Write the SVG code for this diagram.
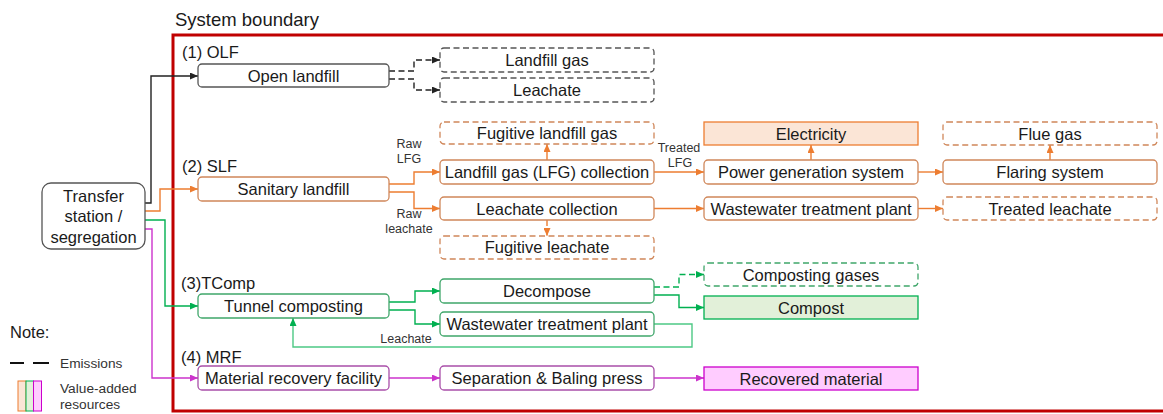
<svg xmlns="http://www.w3.org/2000/svg" width="1163" height="414" viewBox="0 0 1163 414">
<style>
text{font-family:"Liberation Sans",Arial,sans-serif;fill:#1a1a1a}
.t{font-size:16.5px;text-anchor:middle}
.lab{font-size:16.5px}
.s{font-size:12.5px;text-anchor:middle;fill:#333}
.leg{font-size:13.7px;fill:#333}
.b{fill:#fff;stroke-width:1.3}
.k{stroke:#555}
.o{stroke:#D0875A}
.g{stroke:#3FA66A}
.p{stroke:#A94FA9}
.d{stroke-dasharray:6 3.5}
.c{fill:none;stroke-width:1.4}
.ck{stroke:#222}
.co{stroke:#ED7D31}
.cg{stroke:#00B050}
.cp{stroke:#CC33CC}
</style>
<defs>
<marker id="ak" viewBox="0 0 8 7" refX="8" refY="3.5" markerWidth="8" markerHeight="7" markerUnits="userSpaceOnUse" orient="auto"><path d="M0,0L8,3.5L0,7z" fill="#222"/></marker>
<marker id="ao" viewBox="0 0 8 7" refX="8" refY="3.5" markerWidth="8" markerHeight="7" markerUnits="userSpaceOnUse" orient="auto"><path d="M0,0L8,3.5L0,7z" fill="#ED7D31"/></marker>
<marker id="ag" viewBox="0 0 8 7" refX="8" refY="3.5" markerWidth="8" markerHeight="7" markerUnits="userSpaceOnUse" orient="auto"><path d="M0,0L8,3.5L0,7z" fill="#00B050"/></marker>
<marker id="ap" viewBox="0 0 8 7" refX="8" refY="3.5" markerWidth="8" markerHeight="7" markerUnits="userSpaceOnUse" orient="auto"><path d="M0,0L8,3.5L0,7z" fill="#CC33CC"/></marker>
</defs>

<g id="boundary">
<rect x="173" y="35" width="1000" height="376" fill="none" stroke="#C00000" stroke-width="3"/>
<text x="175" y="25.5" style="font-size:18.5px">System boundary</text>
</g>

<g id="labels">
<text class="lab" x="182" y="58">(1) OLF</text>
<text class="lab" x="182" y="172">(2) SLF</text>
<text class="lab" x="181" y="289">(3)TComp</text>
<text class="lab" x="181" y="363">(4) MRF</text>
</g>

<g id="connectors">
<path class="c ck" d="M145,203H151V76H198" marker-end="url(#ak)"/>
<path class="c ck d" d="M389,71H414V60H440" marker-end="url(#ak)"/>
<path class="c ck d" d="M389,79H414V90H440" marker-end="url(#ak)"/>
<path class="c co" d="M145,211H160V189H198" marker-end="url(#ao)"/>
<path class="c co" d="M389,184H414V172H440" marker-end="url(#ao)"/>
<path class="c co" d="M389,192H414V208.5H440" marker-end="url(#ao)"/>
<path class="c co" d="M547,160V144" marker-end="url(#ao)"/>
<path class="c co d" d="M547,220V236" marker-end="url(#ao)"/>
<path class="c co" d="M654,172H704" marker-end="url(#ao)"/>
<path class="c co" d="M811,160V145" marker-end="url(#ao)"/>
<path class="c co" d="M918,172H943" marker-end="url(#ao)"/>
<path class="c co" d="M1050,160V145" marker-end="url(#ao)"/>
<path class="c co" d="M654,208.5H704" marker-end="url(#ao)"/>
<path class="c co" d="M918,208.5H943" marker-end="url(#ao)"/>
<path class="c cg" d="M145,220H165V306H198" marker-end="url(#ag)"/>
<path class="c cg" d="M389,302H415V291H440" marker-end="url(#ag)"/>
<path class="c cg" d="M389,310H415V324H440" marker-end="url(#ag)"/>
<path class="c cg d" d="M654,287H679V274.5H704" marker-end="url(#ag)"/>
<path class="c cg" d="M654,295H679V307.5H704" marker-end="url(#ag)"/>
<path class="c cg" d="M654,324H692V347H293V318" marker-end="url(#ag)" stroke-opacity="0.7"/>
<path class="c cp" d="M145,229H152V378H198" marker-end="url(#ap)"/>
<path class="c cp" d="M389,378H440" marker-end="url(#ap)"/>
<path class="c cp" d="M654,378H704" marker-end="url(#ap)"/>
<text class="s" x="409" y="147.5">Raw</text>
<text class="s" x="409" y="162.5">LFG</text>
<text class="s" x="409" y="217.5">Raw</text>
<text class="s" x="409" y="232.5">leachate</text>
<text class="s" x="679" y="151.5">Treated</text>
<text class="s" x="680" y="166.5">LFG</text>
<text class="s" x="406" y="342.5">Leachate</text>
</g>

<g id="transfer"><rect class="b k" x="42" y="183" width="103" height="66" rx="9"/>
<text class="t" x="93.5" y="202">Transfer</text><text class="t" x="93.5" y="222">station /</text><text class="t" x="93.5" y="243">segregation</text></g>

<g id="olf"><rect class="b k" x="198" y="64" width="191" height="23" rx="4"/><text class="t" x="293.5" y="81.5">Open landfill</text></g>
<g id="olf-gas"><rect class="b k d" x="440" y="48" width="214" height="24" rx="4"/><text class="t" x="547" y="66">Landfill gas</text></g>
<g id="olf-leachate"><rect class="b k d" x="440" y="78" width="214" height="24" rx="4"/><text class="t" x="547" y="96">Leachate</text></g>

<g id="slf"><rect class="b o" x="198" y="177" width="191" height="24" rx="4"/><text class="t" x="293.5" y="195">Sanitary landfill</text></g>
<g id="fug-lfg"><rect class="b o d" x="440" y="122" width="214" height="22" rx="4"/><text class="t" x="547" y="139">Fugitive landfill gas</text></g>
<g id="lfg-coll"><rect class="b o" x="440" y="160" width="214" height="24" rx="4"/><text class="t" x="547" y="178">Landfill gas (LFG) collection</text></g>
<g id="leach-coll"><rect class="b o" x="440" y="197" width="214" height="23" rx="4"/><text class="t" x="547" y="214.5">Leachate collection</text></g>
<g id="fug-leach"><rect class="b o d" x="440" y="236" width="214" height="23" rx="4"/><text class="t" x="547" y="253">Fugitive leachate</text></g>
<g id="electricity"><rect x="704" y="122" width="214" height="23" fill="#FBE5D6" stroke="#ED7D31" stroke-width="1.3"/><text class="t" x="811" y="139.5">Electricity</text></g>
<g id="power"><rect class="b o" x="704" y="160" width="214" height="24" rx="4"/><text class="t" x="811" y="178">Power generation system</text></g>
<g id="wwtp1"><rect class="b o" x="704" y="197" width="214" height="23" rx="4"/><text class="t" x="811" y="214.5">Wastewater treatment plant</text></g>
<g id="flue"><rect class="b o d" x="943" y="122" width="214" height="23" rx="4"/><text class="t" x="1050" y="139.5">Flue gas</text></g>
<g id="flaring"><rect class="b o" x="943" y="160" width="214" height="24" rx="4"/><text class="t" x="1050" y="178">Flaring system</text></g>
<g id="treated"><rect class="b o d" x="943" y="197" width="214" height="23" rx="4"/><text class="t" x="1050" y="214.5">Treated leachate</text></g>

<g id="tunnel"><rect class="b g" x="198" y="294" width="191" height="24" rx="4"/><text class="t" x="293.5" y="312">Tunnel composting</text></g>
<g id="decompose"><rect class="b g" x="440" y="279" width="214" height="24" rx="4"/><text class="t" x="547" y="297">Decompose</text></g>
<g id="wwtp2"><rect class="b g" x="440" y="312" width="214" height="24" rx="4"/><text class="t" x="547" y="330">Wastewater treatment plant</text></g>
<g id="comp-gases"><rect class="b g d" x="704" y="263" width="214" height="23" rx="4"/><text class="t" x="811" y="280.5">Composting gases</text></g>
<g id="compost"><rect x="704" y="296" width="214" height="23" fill="#E2F0D9" stroke="#00B050" stroke-width="1.3"/><text class="t" x="811" y="313.5">Compost</text></g>

<g id="mrf"><rect class="b p" x="198" y="366" width="191" height="24" rx="4"/><text class="t" x="293.5" y="384">Material recovery facility</text></g>
<g id="sep"><rect class="b p" x="440" y="366" width="214" height="24" rx="4"/><text class="t" x="547" y="384">Separation &amp; Baling press</text></g>
<g id="recovered"><rect x="704" y="367" width="214" height="23" fill="#FFCCFF" stroke="#CC00CC" stroke-width="1.3"/><text class="t" x="811" y="384.5">Recovered material</text></g>

<g id="legend">
<text x="10" y="338" style="font-size:16.5px">Note:</text>
<path d="M10,363H24M33,363H49" stroke="#111" stroke-width="2"/>
<text class="leg" x="60" y="368">Emissions</text>
<rect x="18" y="381" width="8" height="30" fill="#FBE5D6" stroke="#ED7D31" stroke-width="1"/>
<rect x="26" y="381" width="7.5" height="30" fill="#E2F0D9" stroke="#00B050" stroke-width="1"/>
<rect x="33.5" y="381" width="8" height="30" fill="#FFCCFF" stroke="#CC00CC" stroke-width="1"/>
<text class="leg" x="60" y="393">Value-added</text>
<text class="leg" x="60" y="409">resources</text>
</g>
</svg>
